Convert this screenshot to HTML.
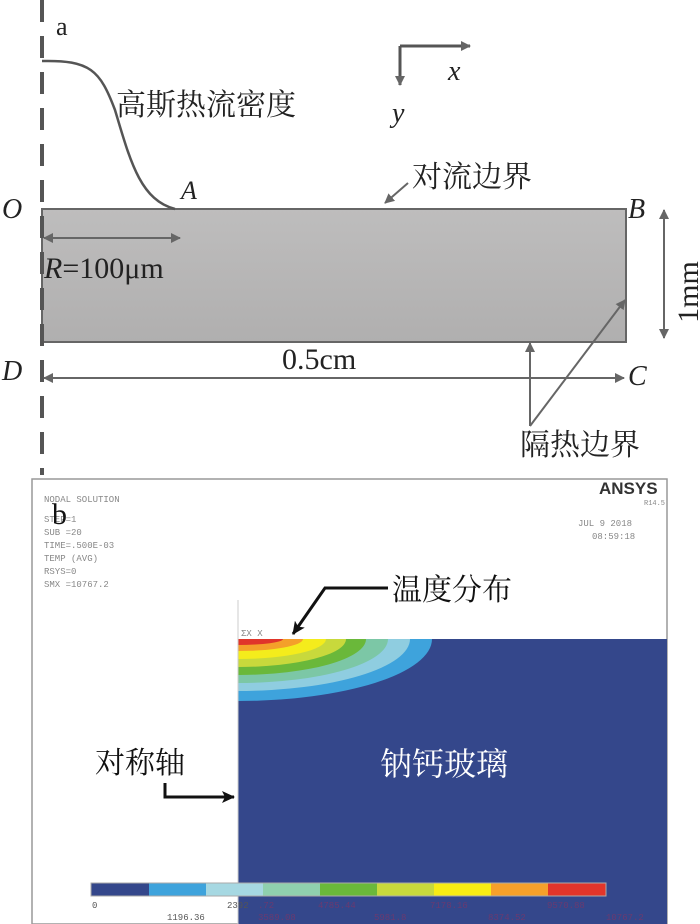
<!DOCTYPE html>
<html><head><meta charset="utf-8"><style>
html,body{margin:0;padding:0;background:#fff;width:700px;height:924px;overflow:hidden}
svg{display:block}
.cj{font-family:"Liberation Serif","Noto Serif CJK SC","Noto Sans CJK SC",serif}
.m{font-family:"Liberation Mono",monospace;fill:#888}
</style></head><body>
<svg width="700" height="924" viewBox="0 0 700 924" xmlns="http://www.w3.org/2000/svg">
<defs>
<marker id="ag" markerWidth="10" markerHeight="10" refX="9" refY="5" orient="auto" markerUnits="userSpaceOnUse"><path d="M0,0 L10,5 L0,10 Z" fill="#666"/></marker>
<marker id="ak" markerWidth="14" markerHeight="12" refX="12" refY="6" orient="auto" markerUnits="userSpaceOnUse"><path d="M0,0 L13,6 L0,12 L3,6 Z" fill="#111"/></marker>
<linearGradient id="gr" x1="0" x2="0" y1="0" y2="1"><stop offset="0" stop-color="#bebdbd"/><stop offset="1" stop-color="#b0afaf"/></linearGradient>
<clipPath id="cp"><rect x="238" y="639" width="429" height="283"/></clipPath>
</defs>
<!-- panel a -->
<rect x="42" y="209" width="584" height="133" fill="url(#gr)" stroke="#666" stroke-width="2"/>
<line x1="42" y1="0" x2="42" y2="475" stroke="#555" stroke-width="4" stroke-dasharray="22,14"/>
<path d="M42,61 C90,60 100,70 115,110 C130,160 140,200 175,209" fill="none" stroke="#555" stroke-width="2.5"/>
<text x="56" y="35" class="cj" font-size="26" fill="#222">a</text>
<text x="116" y="115" class="cj" font-size="30" fill="#222">高斯热流密度</text>
<text x="181" y="199" class="cj" font-size="26" font-style="italic" fill="#222">A</text>
<text x="2" y="218" class="cj" font-size="28" font-style="italic" fill="#222">O</text>
<text x="2" y="380" class="cj" font-size="28" font-style="italic" fill="#222">D</text>
<text x="628" y="218" class="cj" font-size="28" font-style="italic" fill="#222">B</text>
<text x="628" y="385" class="cj" font-size="28" font-style="italic" fill="#222">C</text>
<line x1="46" y1="238" x2="180" y2="238" stroke="#666" stroke-width="2" marker-end="url(#ag)"/>
<line x1="170" y1="238" x2="44" y2="238" stroke="#666" stroke-width="2" marker-end="url(#ag)"/>
<text x="44" y="278" class="cj" font-size="30" fill="#222"><tspan font-style="italic">R</tspan>=100μm</text>
<line x1="50" y1="378" x2="624" y2="378" stroke="#666" stroke-width="2" marker-end="url(#ag)"/>
<line x1="600" y1="378" x2="44" y2="378" stroke="#666" stroke-width="2" marker-end="url(#ag)"/>
<text x="282" y="369" class="cj" font-size="30" fill="#222">0.5cm</text>
<line x1="664" y1="230" x2="664" y2="210" stroke="#666" stroke-width="2" marker-end="url(#ag)"/>
<line x1="664" y1="220" x2="664" y2="338" stroke="#666" stroke-width="2" marker-end="url(#ag)"/>
<text transform="translate(698,292) rotate(-90)" class="cj" font-size="30" fill="#222" text-anchor="middle">1mm</text>
<text x="412" y="187" class="cj" font-size="30" fill="#222">对流边界</text>
<line x1="408" y1="183" x2="385" y2="203" stroke="#666" stroke-width="2" marker-end="url(#ag)"/>
<line x1="530" y1="426" x2="530" y2="343" stroke="#666" stroke-width="2" marker-end="url(#ag)"/>
<line x1="530" y1="426" x2="625" y2="300" stroke="#666" stroke-width="2" marker-end="url(#ag)"/>
<text x="520" y="455" class="cj" font-size="30" fill="#222">隔热边界</text>
<line x1="400" y1="46" x2="470" y2="46" stroke="#555" stroke-width="3" marker-end="url(#ag)"/>
<line x1="400" y1="46" x2="400" y2="85" stroke="#555" stroke-width="3" marker-end="url(#ag)"/>
<text x="448" y="80" class="cj" font-size="28" font-style="italic" fill="#222">x</text>
<text x="392" y="122" class="cj" font-size="28" font-style="italic" fill="#222">y</text>
<!-- panel b -->
<rect x="32" y="479" width="635" height="445" fill="#fff" stroke="#999" stroke-width="1.5"/>
<rect x="238" y="639" width="429" height="285" fill="#34478b"/>
<g clip-path="url(#cp)">
<ellipse cx="238" cy="639" rx="194" ry="62" fill="#3ea3dc"/>
<ellipse cx="238" cy="639" rx="172" ry="52" fill="#8fcde0"/>
<ellipse cx="238" cy="639" rx="150" ry="44" fill="#7cc7a6"/>
<ellipse cx="238" cy="639" rx="128" ry="36" fill="#6ab83a"/>
<ellipse cx="238" cy="639" rx="108" ry="28" fill="#c8d93c"/>
<ellipse cx="238" cy="639" rx="88" ry="20" fill="#f4ec1c"/>
<ellipse cx="238" cy="639" rx="65" ry="12" fill="#f4a02a"/>
<ellipse cx="238" cy="639" rx="45" ry="6" fill="#e0352a"/>
</g>
<line x1="238" y1="600" x2="238" y2="924" stroke="#ccc" stroke-width="1"/>
<g class="m" font-size="9">
<text x="44" y="502">NODAL SOLUTION</text>
<text x="44" y="522">STEP=1</text>
<text x="44" y="535">SUB =20</text>
<text x="44" y="548">TIME=.500E-03</text>
<text x="44" y="561">TEMP     (AVG)</text>
<text x="44" y="574">RSYS=0</text>
<text x="44" y="587">SMX =10767.2</text>
<text x="578" y="526">JUL  9 2018</text>
<text x="592" y="539">08:59:18</text>
<text x="644" y="505" font-size="7">R14.5</text>
<text x="241" y="636">ΣX X</text>
</g>
<text x="599" y="494" font-family="Liberation Sans,sans-serif" font-weight="bold" font-size="17" fill="#333">ANSYS</text>
<text x="52" y="524" class="cj" font-size="30" fill="#111">b</text>
<text x="392" y="600" class="cj" font-size="30" fill="#111">温度分布</text>
<path d="M388,588 L325,588 L293,634" fill="none" stroke="#111" stroke-width="3" marker-end="url(#ak)"/>
<text x="95" y="773" class="cj" font-size="30" fill="#111">对称轴</text>
<path d="M165,783 L165,797 L234,797" fill="none" stroke="#111" stroke-width="3" marker-end="url(#ak)"/>
<text x="380" y="775" class="cj" font-size="32" fill="#fff">钠钙玻璃</text>
<g>
<rect x="91" y="883" width="58" height="13" fill="#34478b"/>
<rect x="149" y="883" width="57" height="13" fill="#3ea3dc"/>
<rect x="206" y="883" width="57" height="13" fill="#a6d8e2"/>
<rect x="263" y="883" width="57" height="13" fill="#8fd0ae"/>
<rect x="320" y="883" width="57" height="13" fill="#6ab83a"/>
<rect x="377" y="883" width="57" height="13" fill="#c8d93c"/>
<rect x="434" y="883" width="57" height="13" fill="#f8ec14"/>
<rect x="491" y="883" width="57" height="13" fill="#f6a02a"/>
<rect x="548" y="883" width="58" height="13" fill="#e2352a"/>
<rect x="91" y="883" width="515" height="13" fill="none" stroke="#aaa" stroke-width="1"/>
</g>
<g font-family="Liberation Mono,monospace" font-size="9">
<text x="92" y="908" fill="#555">0</text>
<text x="167" y="920" fill="#555">1196.36</text>
<text x="227" y="908" fill="#555">2392</text>
<text x="258" y="908" fill="#6a3a70">.72</text>
<text x="258" y="920" fill="#6a3a70">3589.08</text>
<text x="318" y="908" fill="#6a3a70">4785.44</text>
<text x="374" y="920" fill="#6a3a70">5981.8</text>
<text x="430" y="908" fill="#6a3a70">7178.16</text>
<text x="488" y="920" fill="#6a3a70">8374.52</text>
<text x="547" y="908" fill="#6a3a70">9570.88</text>
<text x="606" y="920" fill="#6a3a70">10767.2</text>
</g>
</svg>
</body></html>
